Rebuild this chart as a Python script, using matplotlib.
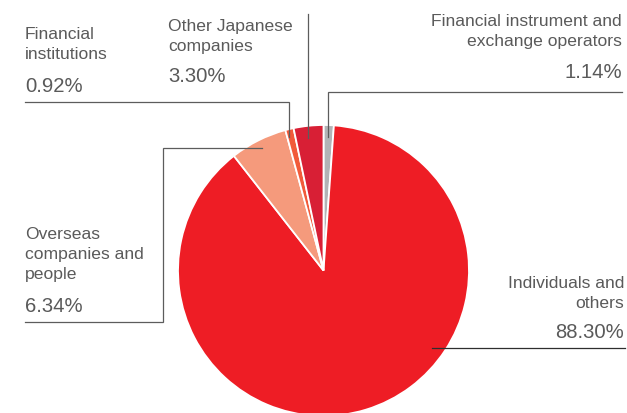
import numpy as np
import matplotlib
matplotlib.use("Agg")
import matplotlib.pyplot as plt

# Shareholder composition (clockwise from 12 o'clock)
categories = [
    "Financial instrument and exchange operators",
    "Individuals and others",
    "Overseas companies and people",
    "Financial institutions",
    "Other Japanese companies",
]
shares = [1.14, 88.30, 6.34, 0.92, 3.30]
colors = ["#B2B3B6", "#EE1D25", "#F59A7C", "#F15A3A", "#D81F35"]

W, H = 627, 413
fig = plt.figure(figsize=(W / 100, H / 100), dpi=100)
ax = fig.add_axes([0, 0, 1, 1])

cx, cy, R = 323.5, 270.5, 145.5
# y axis runs downward (pixel-like), so increasing angle is visually clockwise
wedges, _ = ax.pie(shares, colors=colors, startangle=-90, counterclock=True,
                   center=(cx, cy), radius=R,
                   wedgeprops=dict(edgecolor="white", linewidth=1.3))
ax.set_xlim(0, W)
ax.set_ylim(H, 0)
ax.set_aspect("auto")
ax.axis("off")

def anchor(w, frac=0.92, shift=0.0):
    ang = np.deg2rad((w.theta1 + w.theta2) / 2 + shift)
    return cx + frac * R * np.cos(ang), cy + frac * R * np.sin(ang)

lc = "#5c5c5c"
lw = 0.9
w_fio, w_ind, w_ovs, w_fin, w_oth = wedges

# Financial instrument and exchange operators
x, y = anchor(w_fio)
ax.plot([622, x, x], [92, 92, y], color=lc, lw=lw, solid_joinstyle="miter")
# Other Japanese companies
x, y = anchor(w_oth, shift=-0.85)
ax.plot([x, x], [14, y], color=lc, lw=lw)
# Financial institutions
x, y = anchor(w_fin, frac=0.945, shift=-1.0)
ax.plot([25, x, x], [101.5, 101.5, y], color=lc, lw=lw, solid_joinstyle="miter")
# Overseas companies and people
x, y = anchor(w_ovs, frac=0.945)
ax.plot([25, 163, 163, x], [322, 322, y, y], color=lc, lw=lw, solid_joinstyle="miter")
# Individuals and others
ax.plot([432, 625], [348, 348], color="#2e2e2e", lw=lw)

tc = "#5a5a5a"
fam = ["Liberation Sans", "DejaVu Sans"]
fs_lab, fs_pct = 12.6, 14.6

def label(x, ys, lines, pct, pct_y, ha="left"):
    for yy, t in zip(ys, lines):
        ax.text(x, yy, t, ha=ha, va="baseline", fontsize=fs_lab, color=tc, family=fam)
    ax.text(x, pct_y, pct, ha=ha, va="baseline", fontsize=fs_pct, color=tc, family=fam)

label(25, [39, 59], ["Financial", "institutions"], f"{shares[3]:.2f}%", 91.5)
label(168, [30.5, 50.5], ["Other Japanese", "companies"], f"{shares[4]:.2f}%", 82.5)
label(622, [26, 46], ["Financial instrument and", "exchange operators"],
      f"{shares[0]:.2f}%", 78, ha="right")
label(25, [239, 259, 279], ["Overseas", "companies and", "people"],
      f"{shares[2]:.2f}%", 311.5)
label(624, [288.5, 308.5], ["Individuals and", "others"],
      f"{shares[1]:.2f}%", 338, ha="right")

fig.savefig("out.png", dpi=100, facecolor="white")
